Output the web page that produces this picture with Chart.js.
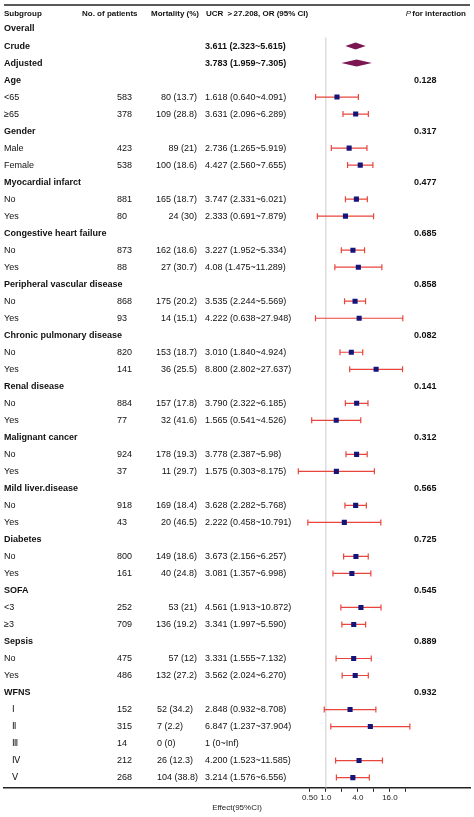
<!DOCTYPE html>
<html>
<head>
<meta charset="utf-8">
<script src="https://cdn.jsdelivr.net/npm/chart.js@4/dist/chart.umd.min.js"></script>
<style>
  html, body { margin: 0; padding: 0; background: #fff; }
  #wrap { width: 474px; height: 817px; position: relative; }
</style>
</head>
<body>
<div id="wrap"><canvas id="forest"></canvas></div>
<script>
// row kinds: h = group header, o = overall (diamond), r = subgroup row
const rowKinds = ['h','o','o','h','r','r','h','r','r','h','r','r','h','r','r','h','r','r','h','r','r','h','r','r','h','r','r','h','r','r','h','r','r','h','r','r','h','r','r','h','r','r','r','r','r'];
const rowLabels = ['Overall','Crude','Adjusted','Age','<65','≥65','Gender','Male','Female','Myocardial infarct','No','Yes',
  'Congestive heart failure','No','Yes','Peripheral vascular disease','No','Yes','Chronic pulmonary disease','No','Yes',
  'Renal disease','No','Yes','Malignant cancer','No','Yes','Mild liver.disease','No','Yes','Diabetes','No','Yes',
  'SOFA','<3','≥3','Sepsis','No','Yes','WFNS','Ⅰ','Ⅱ','Ⅲ','Ⅳ','Ⅴ'];
const patients = ['','','','','583','378','','423','538','','881','80','','873','88','','868','93','','820','141',
  '','884','77','','924','37','','918','43','','800','161','','252','709','','475','486','','152','315','14','212','268'];
const mortality = ['','','','','80 (13.7)','109 (28.8)','','89 (21)','100 (18.6)','','165 (18.7)','24 (30)','','162 (18.6)','27 (30.7)',
  '','175 (20.2)','14 (15.1)','','153 (18.7)','36 (25.5)','','157 (17.8)','32 (41.6)','','178 (19.3)','11 (29.7)',
  '','169 (18.4)','20 (46.5)','','149 (18.6)','40 (24.8)','','53 (21)','136 (19.2)','','57 (12)','132 (27.2)',
  '','52 (34.2)','7 (2.2)','0 (0)','26 (12.3)','104 (38.8)'];
const orText = ['','3.611 (2.323~5.615)','3.783 (1.959~7.305)','','1.618 (0.640~4.091)','3.631 (2.096~6.289)','',
  '2.736 (1.265~5.919)','4.427 (2.560~7.655)','','3.747 (2.331~6.021)','2.333 (0.691~7.879)','',
  '3.227 (1.952~5.334)','4.08 (1.475~11.289)','','3.535 (2.244~5.569)','4.222 (0.638~27.948)','',
  '3.010 (1.840~4.924)','8.800 (2.802~27.637)','','3.790 (2.322~6.185)','1.565 (0.541~4.526)','',
  '3.778 (2.387~5.98)','1.575 (0.303~8.175)','','3.628 (2.282~5.768)','2.222 (0.458~10.791)','',
  '3.673 (2.156~6.257)','3.081 (1.357~6.998)','','4.561 (1.913~10.872)','3.341 (1.997~5.590)','',
  '3.331 (1.555~7.132)','3.562 (2.024~6.270)','','2.848 (0.932~8.708)','6.847 (1.237~37.904)','1 (0~Inf)',
  '4.200 (1.523~11.585)','3.214 (1.576~6.556)'];
const pValues = ['','','','0.128','','','0.317','','','0.477','','','0.685','','','0.858','','','0.082','',''
  ,'0.141','','','0.312','','','0.565','','','0.725','','','0.545','','','0.889','','','0.932','','','','',''];
const orVal = [null,3.611,3.783,null,1.618,3.631,null,2.736,4.427,null,3.747,2.333,null,3.227,4.08,null,3.535,4.222,null,
  3.010,8.800,null,3.790,1.565,null,3.778,1.575,null,3.628,2.222,null,3.673,3.081,null,4.561,3.341,null,3.331,3.562,null,
  2.848,6.847,null,4.200,3.214];
const orLow = [null,2.323,1.959,null,0.640,2.096,null,1.265,2.560,null,2.331,0.691,null,1.952,1.475,null,2.244,0.638,null,
  1.840,2.802,null,2.322,0.541,null,2.387,0.303,null,2.282,0.458,null,2.156,1.357,null,1.913,1.997,null,1.555,2.024,null,
  0.932,1.237,null,1.523,1.576];
const orHigh = [null,5.615,7.305,null,4.091,6.289,null,5.919,7.655,null,6.021,7.879,null,5.334,11.289,null,5.569,27.948,null,
  4.924,27.637,null,6.185,4.526,null,5.98,8.175,null,5.768,10.791,null,6.257,6.998,null,10.872,5.590,null,7.132,6.270,null,
  8.708,37.904,null,11.585,6.556];
const tickValues = [0.5, 1, 2, 4, 8, 16, 32];
const tickLabels = { 0.5: '0.50', 1: '1.0', 4: '4.0', 16: '16.0' };

const FONT = '"Liberation Sans", Arial, sans-serif';

const points = [];
rowKinds.forEach((k, i) => { if (k === 'r' && orVal[i] !== null) points.push({ x: orVal[i], y: i }); });

const forestPlugin = {
  id: 'forest',
  beforeDatasetsDraw(chart) {
    const { ctx, scales: { x, y } } = chart;
    ctx.save();
    // reference line at OR = 1
    ctx.strokeStyle = '#cccccc';
    ctx.lineWidth = 1;
    ctx.beginPath();
    ctx.moveTo(x.getPixelForValue(1), y.getPixelForValue(0.5));
    ctx.lineTo(x.getPixelForValue(1), chart.chartArea.bottom);
    ctx.stroke();
    // error bars
    ctx.strokeStyle = '#e8463c';
    ctx.lineWidth = 1.2;
    rowKinds.forEach((k, i) => {
      if (k !== 'r' || orVal[i] === null) return;
      const py = y.getPixelForValue(i);
      const x1 = x.getPixelForValue(orLow[i]), x2 = x.getPixelForValue(orHigh[i]);
      ctx.beginPath();
      ctx.moveTo(x1, py); ctx.lineTo(x2, py);
      ctx.moveTo(x1, py - 3); ctx.lineTo(x1, py + 3);
      ctx.moveTo(x2, py - 3); ctx.lineTo(x2, py + 3);
      ctx.stroke();
    });
    // diamonds for overall estimates
    ctx.fillStyle = '#7b1650';
    rowKinds.forEach((k, i) => {
      if (k !== 'o') return;
      const py = y.getPixelForValue(i);
      const xl = x.getPixelForValue(orLow[i]), xm = x.getPixelForValue(orVal[i]), xr = x.getPixelForValue(orHigh[i]);
      ctx.beginPath();
      ctx.moveTo(xl, py); ctx.lineTo(xm, py - 3.5); ctx.lineTo(xr, py); ctx.lineTo(xm, py + 3.5);
      ctx.closePath(); ctx.fill();
    });
    ctx.restore();
  },
  afterDraw(chart) {
    const { ctx, scales: { y } } = chart;
    ctx.save();
    ctx.textBaseline = 'middle';
    ctx.fillStyle = '#111';
    // top rule
    ctx.strokeStyle = '#222';
    ctx.lineWidth = 1.5;
    ctx.beginPath(); ctx.moveTo(4, 5); ctx.lineTo(470, 5); ctx.stroke();
    // header
    ctx.font = 'bold 8px ' + FONT;
    const hy = 14;
    ctx.textAlign = 'left';
    ctx.fillText('Subgroup', 4, hy);
    ctx.fillText('No. of patients', 82, hy);
    ctx.fillText('Mortality (%)', 151, hy);
    ctx.fillText('UCR ＞27.208, OR (95% CI)', 206, hy);
    ctx.textAlign = 'right';
    ctx.fillText('for interaction', 466, hy);
    ctx.font = 'italic 8px ' + FONT;
    ctx.fillText('P', 411, hy);
    rowKinds.forEach((k, i) => {
      const py = y.getPixelForValue(i);
      ctx.textAlign = 'left';
      if (k === 'h' || k === 'o') {
        ctx.font = 'bold 9px ' + FONT;
        ctx.fillText(rowLabels[i], 4, py);
        if (k === 'o') ctx.fillText(orText[i], 205, py);
        if (pValues[i]) { ctx.fillText(pValues[i], 414, py); }
      } else {
        ctx.font = '9px ' + FONT;
        ctx.fillText(rowLabels[i], i >= 40 ? 12 : 4, py);
        ctx.fillText(patients[i], 117, py);
        if (i >= 40) { ctx.fillText(mortality[i], 157, py); }
        else { ctx.textAlign = 'right'; ctx.fillText(mortality[i], 197, py); ctx.textAlign = 'left'; }
        ctx.fillText(orText[i], 205, py);
      }
    });
    ctx.restore();
  }
};

new Chart(document.getElementById('forest').getContext('2d'), {
  type: 'scatter',
  data: {
    datasets: [{
      data: points,
      pointStyle: 'rect',
      pointRadius: 3.6,
      pointHoverRadius: 3.6,
      backgroundColor: '#14147a',
      borderColor: '#14147a',
      borderWidth: 0
    }]
  },
  options: {
    responsive: true,
    maintainAspectRatio: false,
    animation: false,
    layout: { padding: { left: 4, right: 4, top: 12, bottom: 0 } },
    plugins: { legend: { display: false }, tooltip: { enabled: false } },
    scales: {
      x: {
        type: 'logarithmic',
        min: Math.pow(2, -20.1),
        max: Math.pow(2, 9.0),
        afterBuildTicks: s => { s.ticks = tickValues.map(v => ({ value: v })); },
        ticks: {
          autoSkip: false, maxRotation: 0,
          font: { size: 8, family: FONT }, color: '#222', padding: 1,
          callback: v => tickLabels[v] || ''
        },
        grid: { drawOnChartArea: false, drawTicks: true, tickLength: 4, color: '#222' },
        border: { color: '#222', width: 1.5 },
        title: { display: true, text: 'Effect(95%CI)', font: { size: 8, family: FONT }, color: '#222', padding: { top: 0, bottom: 4 } }
      },
      y: {
        type: 'linear', reverse: true,
        min: -1, max: 44.6,
        display: false
      }
    }
  },
  plugins: [forestPlugin]
});
</script>
</body>
</html>
